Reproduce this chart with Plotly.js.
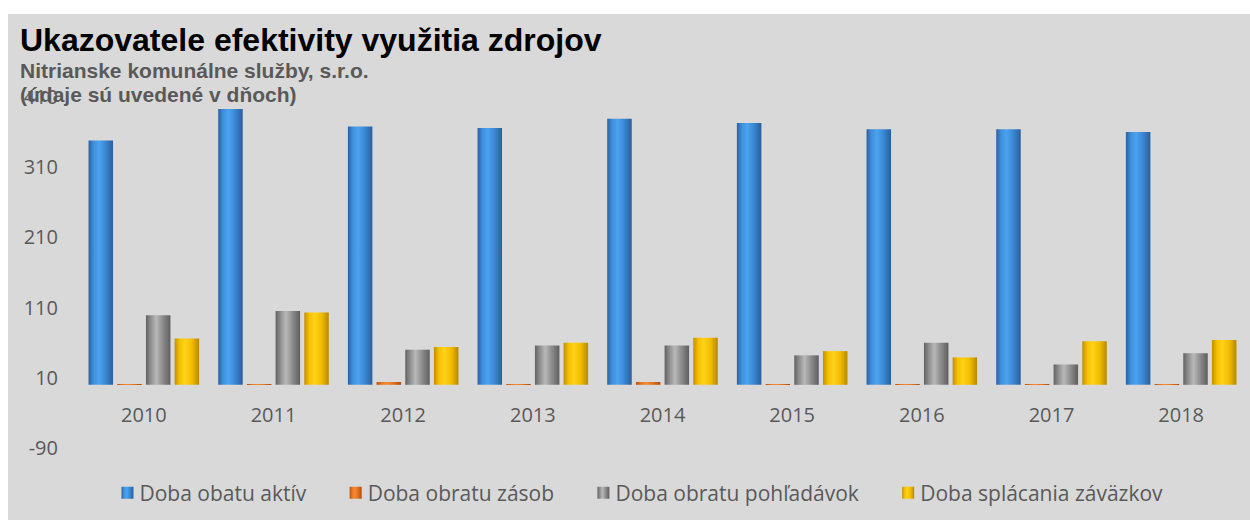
<!DOCTYPE html>
<html>
<head>
<meta charset="utf-8">
<script src="https://cdn.plot.ly/plotly-3.0.1.min.js"></script>
<style>
  html, body { margin: 0; padding: 0; background: #ffffff; }
  #chart { position: absolute; left: 8px; top: 14px; width: 1242px; height: 506px; }
</style>
</head>
<body>
<div id="chart"></div>
<script>
// ---- data ----
const years = ["2010", "2011", "2012", "2013", "2014", "2015", "2016", "2017", "2018"];
const seriesNames = ["Doba obatu aktív", "Doba obratu zásob", "Doba obratu pohľadávok", "Doba splácania záväzkov"];
const dobaObratuAktiv = [348, 393, 368, 366, 379, 373, 364, 364, 360];
const dobaObratuZasob = [1, 1, 4, 1, 4, 1, 1, 1, 1];
const dobaObratuPohladavok = [99, 105, 50, 56, 56, 42, 60, 29, 45];
const dobaSplacaniaZavazkov = [66, 103, 54, 60, 67, 48, 39, 62, 64];
const yTickValues = [-90, 10, 110, 210, 310, 410];
const yTickLabels = ["-90", "10", "110", "210", "310", "410"];
const yMin = -90, yMax = 410;

const seriesValues = [dobaObratuAktiv, dobaObratuZasob, dobaObratuPohladavok, dobaSplacaniaZavazkov];
const fills = ["#3b88d4", "#e2711d", "#8a8a8a", "#f5c200"];
const gradients = [
  ["#2a62a0", "#3f8fdc", "#4ba3f0", "#3a86d2", "#2a5f98"],
  ["#b0520f", "#e8761f", "#f58a34", "#e2711d", "#a84c0e"],
  ["#626262", "#8f8f8f", "#b8b8b8", "#8a8a8a", "#5e5e5e"],
  ["#c08f00", "#f5c000", "#ffd21a", "#f2bd00", "#b88800"]
];
const legendPad = "\u00a0\u00a0\u00a0";

const traces = seriesValues.map((vals, i) => ({
  type: "bar",
  name: seriesNames[i] + (i < seriesNames.length - 1 ? legendPad : ""),
  x: years,
  y: vals,
  marker: { color: fills[i], line: { width: 0 } },
  hovertemplate: "%{x}: %{y}<extra>" + seriesNames[i] + "</extra>"
}));

const W = 1242, H = 506;
const mL = 71, mR = 4, mT = 83, mB = 72;
const plotH = H - mT - mB;
const plotW = W - mL - mR;
const zeroFrac = (0 - yMin) / (yMax - yMin);

const layout = {
  width: W, height: H,
  paper_bgcolor: "#d9d9d9",
  plot_bgcolor: "#d9d9d9",
  margin: { l: mL, r: mR, t: mT, b: mB, pad: 0 },
  barmode: "group",
  bargap: 0.115,
  bargroupgap: 0.146,
  title: {
    text: "Ukazovatele efektivity využitia zdrojov",
    font: { family: "Liberation Sans, Arial, sans-serif", size: 32, color: "#000000", weight: "bold" },
    xref: "container", x: 12 / W, xanchor: "left",
    yref: "container", y: 1 - 26 / H, yanchor: "middle"
  },
  annotations: [
    {
      text: "Nitrianske komunálne služby, s.r.o.",
      xref: "paper", yref: "paper",
      x: (10 - mL) / plotW, xanchor: "left",
      y: (H - mB - 57) / plotH, yanchor: "middle",
      showarrow: false,
      font: { family: "Liberation Sans, Arial, sans-serif", size: 21, color: "#595959", weight: "bold" }
    },
    {
      text: "(údaje sú uvedené v dňoch)",
      xref: "paper", yref: "paper",
      x: (10 - mL) / plotW, xanchor: "left",
      y: (H - mB - 80) / plotH, yanchor: "middle",
      showarrow: false,
      font: { family: "Liberation Sans, Arial, sans-serif", size: 21, color: "#595959", weight: "bold" }
    }
  ],
  xaxis: {
    type: "category",
    anchor: "free",
    position: zeroFrac,
    showline: false,
    showgrid: false,
    zeroline: false,
    ticks: "",
    ticklabelstandoff: 16,
    tickfont: { family: "Open Sans, sans-serif", size: 20, color: "#595959" }
  },
  yaxis: {
    range: [yMin, yMax],
    tickmode: "array",
    tickvals: yTickValues,
    ticktext: yTickLabels,
    showgrid: false,
    zeroline: false,
    showline: false,
    ticks: "",
    ticklabelstandoff: 20,
    tickfont: { family: "Open Sans, sans-serif", size: 20, color: "#595959" }
  },
  showlegend: true,
  legend: {
    orientation: "h",
    xref: "container", x: (634 - 8) / W, xanchor: "center",
    yref: "container", y: 1 - 479 / H, yanchor: "middle",
    bgcolor: "rgba(0,0,0,0)",
    font: { family: "Open Sans, sans-serif", size: 21, color: "#595959" },
    itemwidth: 30,
    traceorder: "normal"
  }
};

function applyGradients(gd) {
  const svg = gd.querySelector("svg.main-svg");
  if (!svg) return;
  const ns = "http://www.w3.org/2000/svg";
  let defs = svg.querySelector("defs");
  if (!defs) { defs = document.createElementNS(ns, "defs"); svg.insertBefore(defs, svg.firstChild); }
  gradients.forEach((stops, i) => {
    const g = document.createElementNS(ns, "linearGradient");
    g.setAttribute("id", "barGrad" + i);
    g.setAttribute("x1", "0"); g.setAttribute("y1", "0");
    g.setAttribute("x2", "1"); g.setAttribute("y2", "0");
    const offs = [0, 0.2, 0.42, 0.7, 1];
    stops.forEach((c, k) => {
      const s = document.createElementNS(ns, "stop");
      s.setAttribute("offset", offs[k]);
      s.setAttribute("stop-color", c);
      g.appendChild(s);
    });
    defs.appendChild(g);
  });
  const barTraces = gd.querySelectorAll(".barlayer .trace.bars");
  barTraces.forEach((tr, i) => {
    tr.querySelectorAll(".point path").forEach(p => { p.style.fill = "url(#barGrad" + i + ")"; });
  });
  const legendTraces = gd.querySelectorAll(".legend .traces");
  legendTraces.forEach((tr, i) => {
    tr.querySelectorAll(".legendpoints path").forEach(p => { p.style.fill = "url(#barGrad" + i + ")"; });
    const lp = tr.querySelector(".legendpoints");
    if (lp) {
      const t = lp.getAttribute("transform") || "";
      lp.setAttribute("transform", t + " translate(8,0)");
    }
  });
}

Plotly.newPlot("chart", traces, layout, { displayModeBar: false, responsive: false })
  .then(applyGradients);
</script>
</body>
</html>
